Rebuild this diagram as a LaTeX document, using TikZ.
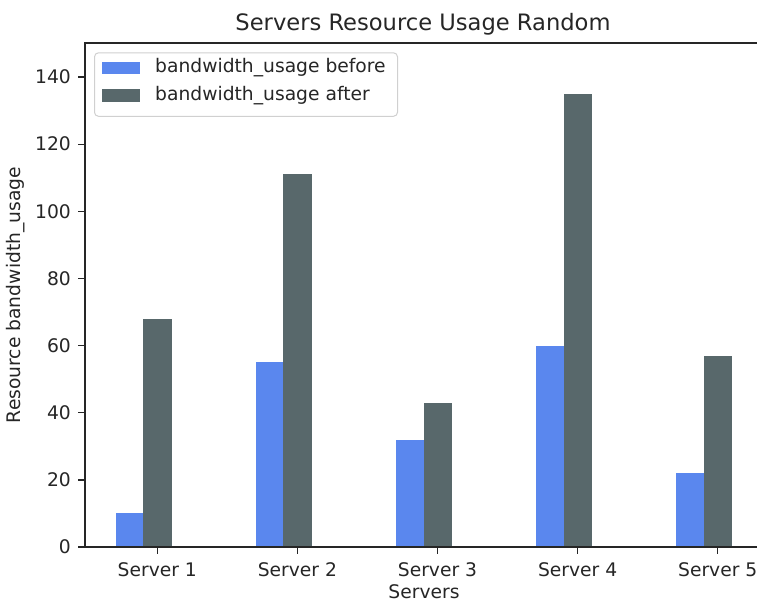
\documentclass[tikz,border=0pt]{standalone}
\usepackage{fontspec}
\setmainfont{DejaVu Sans}
\definecolor{barbefore}{HTML}{5A87EE}
\definecolor{barafter}{HTML}{58686B}
\definecolor{spinecol}{HTML}{262626}
\definecolor{legendedge}{HTML}{D0D0D0}
\definecolor{txtcol}{HTML}{262626}
\begin{document}
\begin{tikzpicture}[x=1pt,y=-1pt,
  spine/.style={draw=spinecol,line width=1.4pt},
  tickmark/.style={draw=spinecol,line width=1.3pt},
  ticklab/.style={font=\fontsize{18.7}{22}\selectfont,text=txtcol,inner sep=0pt},
  beforebar/.style={fill=barbefore},
  afterbar/.style={fill=barafter},
  legendbox/.style={draw=legendedge,line width=1pt,rounded corners=4pt,fill=white,fill opacity=0.85},
  titletext/.style={font=\fontsize{22.6}{26}\selectfont,text=txtcol,inner sep=0pt}]
\useasboundingbox (0,0) rectangle (757,603);
\fill[white] (0,0) rectangle (757,603);
% y ticks: value v sits at 547 - 3.357 v
\foreach \v in {0,20,...,140}{
  \pgfmathsetmacro{\yy}{547-3.357*\v}
  \draw[tickmark] (78,\yy) -- (85,\yy);
  \node[ticklab,anchor=east] (ylab\v) at (71,\yy) {\v};
}
% bars: before / after for each server
\foreach \i/\b/\a in {1/10/68,2/55/111,3/32/43,4/60/135,5/22/57}{
  \pgfmathsetmacro{\tx}{157.3+140.1*(\i-1)}
  \pgfmathsetmacro{\yb}{547-3.357*\b}
  \pgfmathsetmacro{\ya}{547-3.357*\a}
  \fill[beforebar] (\tx-41.3,547) rectangle (\tx-14,\yb);
  \fill[afterbar] (\tx-14,547) rectangle (\tx+14.4,\ya);
  \draw[tickmark] (\tx,547) -- (\tx,553.5);
  \node[ticklab,anchor=base] (xlab\i) at (\tx,576) {Server \i};
}
% axes frame
\draw[spine] (757,43) -- (85,43) -- (85,547) -- (757,547);
% legend
\node[legendbox,minimum width=303pt,minimum height=63.5pt,anchor=north west] (legend) at (94,52.3) {};
\fill[beforebar] (102,61.7) rectangle (140,74.3);
\fill[afterbar] (102,89) rectangle (140,102.3);
\node[ticklab,anchor=west] (legbefore) at (155,68) {bandwidth\_usage before};
\node[ticklab,anchor=west] (legafter) at (155,96) {bandwidth\_usage after};
% labels
\node[titletext,anchor=base] (title) at (423,30.7) {Servers Resource Usage Random};
\node[ticklab,anchor=base] (xtitle) at (424,598.5) {Servers};
\node[ticklab,anchor=center,rotate=90] (ytitle) at (16,295) {Resource bandwidth\_usage};
\end{tikzpicture}
\end{document}
